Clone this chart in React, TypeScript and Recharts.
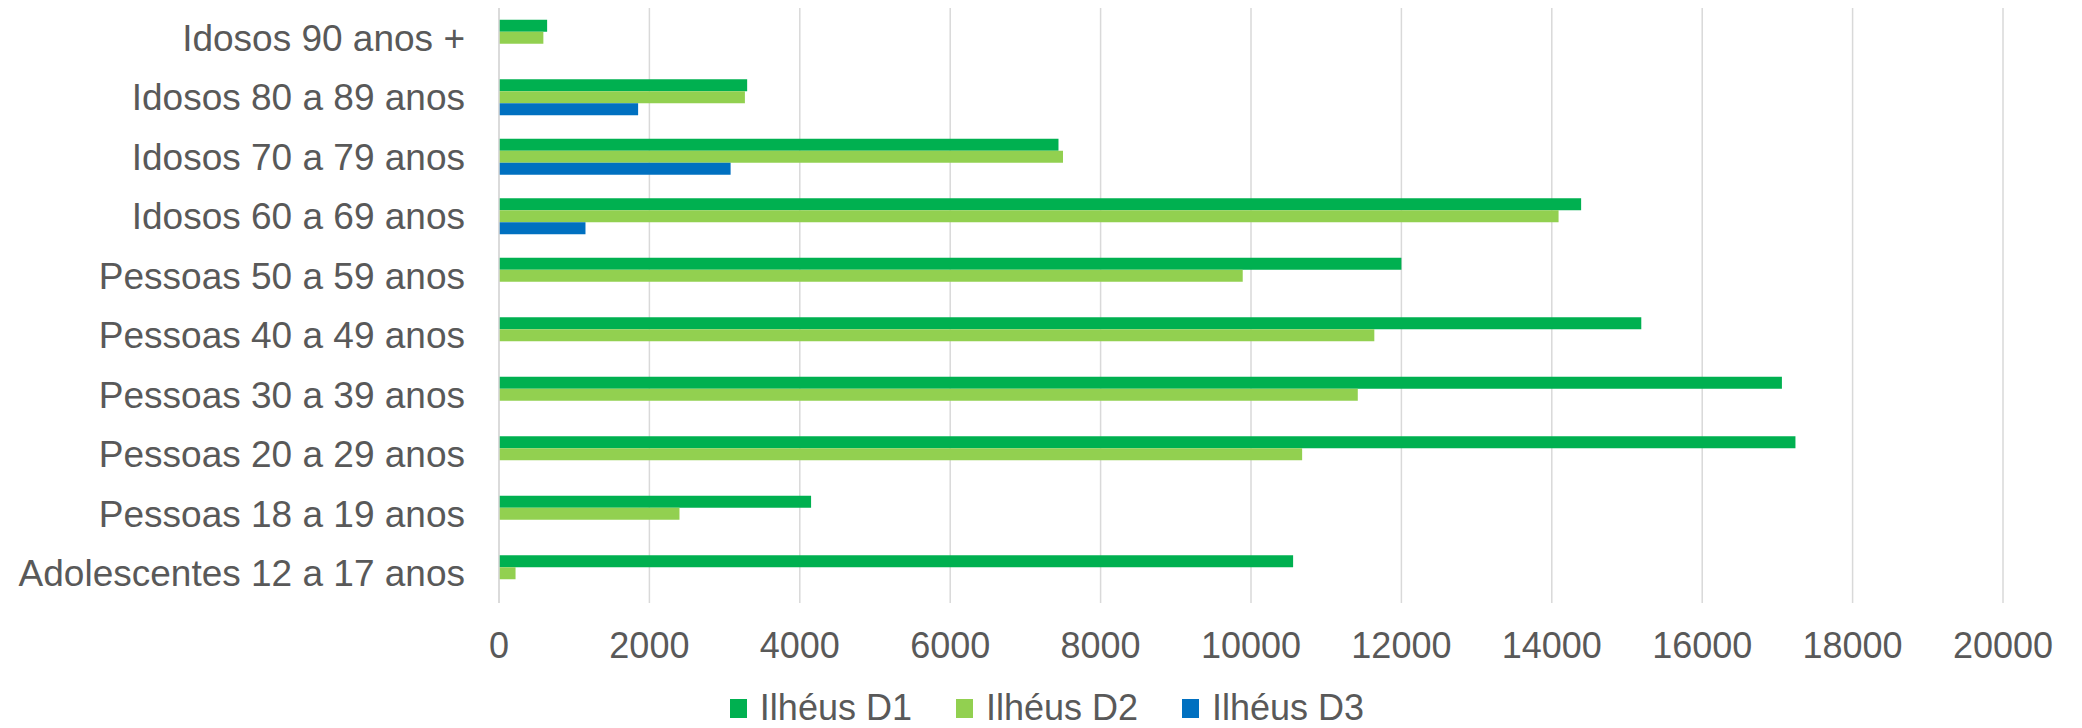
import { BarChart, Bar, XAxis, YAxis, CartesianGrid, Legend } from "recharts";

// age groups, listed top to bottom as they appear
const categories = [
  "Idosos 90 anos +",
  "Idosos 80 a 89 anos",
  "Idosos 70 a 79 anos",
  "Idosos 60 a 69 anos",
  "Pessoas 50 a 59 anos",
  "Pessoas 40 a 49 anos",
  "Pessoas 30 a 39 anos",
  "Pessoas 20 a 29 anos",
  "Pessoas 18 a 19 anos",
  "Adolescentes 12 a 17 anos",
];

const ilheusD1 = [640, 3300, 7440, 14390, 12000, 15190, 17060, 17240, 4150, 10560];
const ilheusD2 = [590, 3270, 7500, 14090, 9890, 11640, 11420, 10680, 2400, 220];
const ilheusD3 = [null, 1850, 3080, 1150, null, null, null, null, null, null];

const xTicks = [0, 2000, 4000, 6000, 8000, 10000, 12000, 14000, 16000, 18000, 20000];

const series = [
  { key: "d1", name: "Ilhéus D1", color: "#00B050" },
  { key: "d2", name: "Ilhéus D2", color: "#92D050" },
  { key: "d3", name: "Ilhéus D3", color: "#0070C0" },
];

const data = categories.map((name, i) => ({
  name,
  d1: ilheusD1[i],
  d2: ilheusD2[i],
  d3: ilheusD3[i],
}));

const textColor = "#595959";

// legend like the excel one: small squares + label
const renderLegend = () => (
  <div
    style={{
      height: 40,
      display: "flex",
      justifyContent: "center",
      alignItems: "center",
      gap: 44,
      paddingLeft: 12,
      fontSize: 36,
      lineHeight: "40px",
      color: textColor,
    }}
  >
    {series.map((s) => (
      <div key={s.key} style={{ display: "flex", alignItems: "center" }}>
        <span
          style={{
            display: "inline-block",
            width: 17,
            height: 19,
            background: s.color,
            marginRight: 13,
          }}
        />
        <span>{s.name}</span>
      </div>
    ))}
  </div>
);

export default function App() {
  return (
    <div style={{ position: "absolute", top: 0, left: 0 }}>
      <BarChart
        width={2082}
        height={728}
        data={data}
        layout="vertical"
        margin={{ top: 8, right: 79, left: 0, bottom: 0 }}
        barCategoryGap="19.75%"
        barGap={0}
        style={{ fontFamily: "'Liberation Sans', Arial, sans-serif" }}
      >
        <CartesianGrid horizontal={false} stroke="#d9d9d9" strokeWidth={1.5} />

        <XAxis
          type="number"
          domain={[0, 20000]}
          ticks={xTicks}
          interval={0}
          axisLine={false}
          tickLine={false}
          tickSize={0}
          tickMargin={29}
          height={85}
          tick={{ fontSize: 36, fill: textColor }}
        />

        <YAxis
          type="category"
          dataKey="name"
          width={499}
          axisLine={{ stroke: "#d9d9d9", strokeWidth: 1.5 }}
          tickLine={false}
          tickSize={0}
          tickMargin={34}
          interval={0}
          tick={{ fontSize: 37, fill: textColor }}
        />

        <Legend
          verticalAlign="bottom"
          content={renderLegend}
          wrapperStyle={{ left: 0, width: 2082 }}
        />

        {series.map((s) => (
          <Bar
            key={s.key}
            dataKey={s.key}
            name={s.name}
            fill={s.color}
            isAnimationActive={false}
          />
        ))}
      </BarChart>
    </div>
  );
}
